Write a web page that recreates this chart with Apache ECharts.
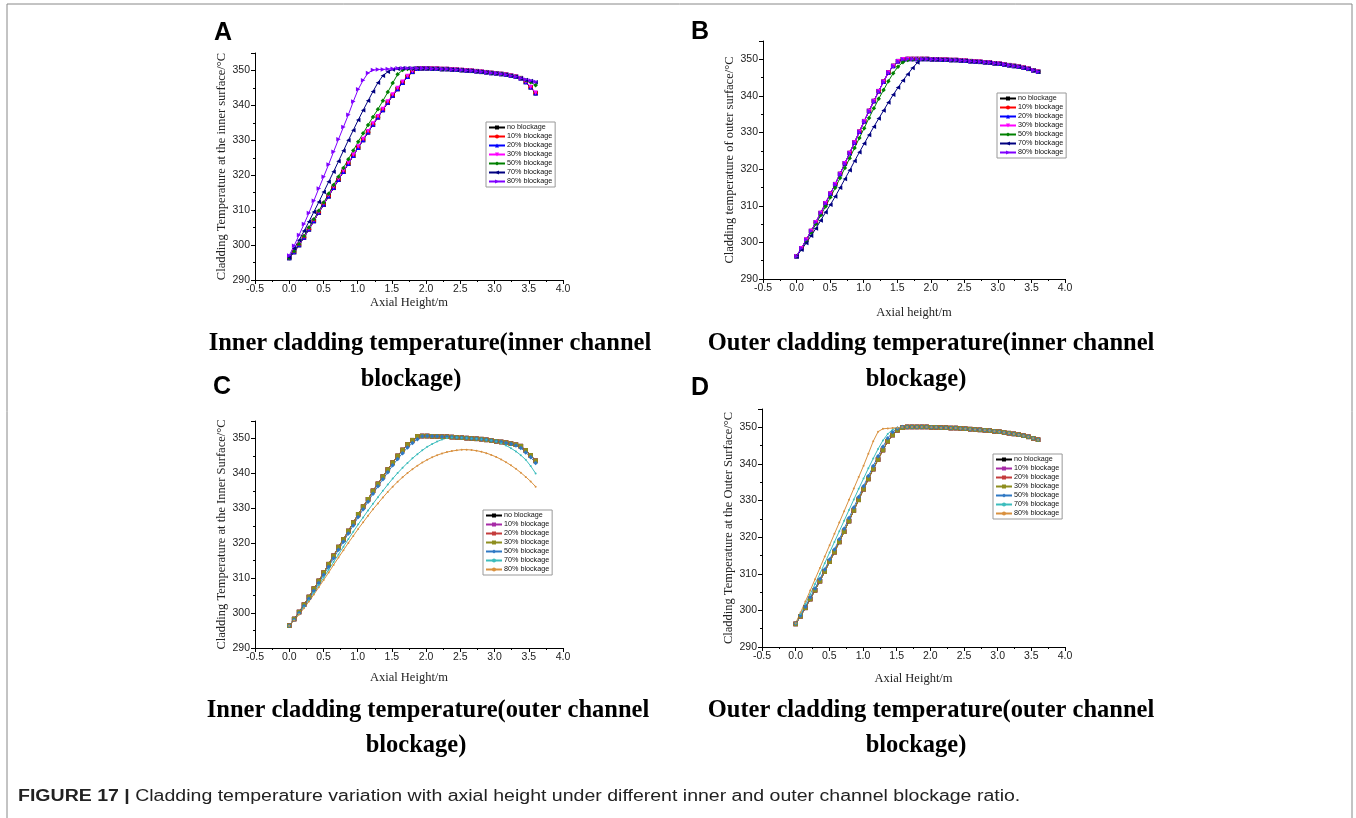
<!DOCTYPE html>
<html><head><meta charset="utf-8">
<script src="https://cdn.jsdelivr.net/npm/echarts@6/dist/echarts.min.js"></script>
<style>html,body{margin:0;padding:0;background:#fff}#c{width:1356px;height:818px}</style>
</head><body><div id="c"></div>
<script>
// Axial height positions (m)
const xs = [0,0.072,0.144,0.216,0.288,0.36,0.432,0.504,0.576,0.648,0.72,0.792,0.864,0.936,1.008,1.08,1.152,1.224,1.296,1.368,1.44,1.512,1.584,1.656,1.728,1.8,1.872,1.944,2.016,2.088,2.16,2.232,2.304,2.376,2.448,2.52,2.592,2.664,2.736,2.808,2.88,2.952,3.024,3.096,3.168,3.24,3.312,3.384,3.456,3.528,3.6];
const blockageLabels = ['no blockage','10% blockage','20% blockage','30% blockage','50% blockage','70% blockage','80% blockage'];
const xTicks = [-0.5,0,0.5,1,1.5,2,2.5,3,3.5,4];
const yTicks = [290,300,310,320,330,340,350];
const yTop = 355;

// Panel A: inner cladding temperature, inner channel blockage
const aBase = [296.3,298.0,300.0,302.2,304.5,306.9,309.3,311.6,314.0,316.4,318.7,321.0,323.3,325.6,327.9,330.1,332.3,334.5,336.6,338.7,340.8,342.8,344.7,346.5,348.2,349.6,350.5,350.6,350.6,350.5,350.5,350.4,350.4,350.3,350.2,350.1,350.0,349.9,349.8,349.6,349.5,349.3,349.2,349.0,348.8,348.5,348.2,347.8,346.7,345.2,343.5];
const a30 = [296.4,298.1,300.2,302.4,304.7,307.1,309.5,311.9,314.3,316.7,319.0,321.3,323.6,325.9,328.2,330.4,332.6,334.8,336.9,339.0,341.1,343.1,345.0,346.8,348.4,349.8,350.5,350.6,350.6,350.5,350.5,350.4,350.4,350.3,350.2,350.1,350.0,349.9,349.8,349.6,349.5,349.3,349.2,349.0,348.8,348.5,348.2,347.8,346.8,345.3,343.6];
const a50 = [296.3,298.2,300.3,302.6,305.0,307.4,309.8,312.2,314.7,317.2,319.6,322.1,324.6,327.1,329.6,332.0,334.4,336.7,338.9,341.3,343.8,346.4,348.9,350.1,350.4,350.5,350.6,350.6,350.6,350.5,350.5,350.4,350.4,350.3,350.2,350.1,350.0,349.9,349.8,349.6,349.5,349.3,349.2,349.0,348.8,348.5,348.2,347.8,347.2,346.6,345.8];
const a70 = [296.5,299.0,301.4,304.0,306.7,309.5,312.3,315.2,318.1,321.0,324.0,327.0,330.0,332.9,335.8,338.6,341.3,344.0,346.5,348.5,349.6,350.3,350.5,350.6,350.6,350.6,350.6,350.6,350.6,350.5,350.5,350.4,350.4,350.3,350.2,350.1,350.0,349.9,349.8,349.6,349.5,349.3,349.2,349.0,348.8,348.5,348.2,347.8,347.3,347.0,346.6];
const a80 = [297.0,299.8,302.9,306.0,309.2,312.7,316.2,319.6,323.1,326.7,330.3,333.8,337.3,341.1,344.6,347.2,349.3,350.1,350.3,350.3,350.4,350.5,350.6,350.6,350.6,350.6,350.6,350.6,350.6,350.5,350.5,350.4,350.4,350.3,350.2,350.1,350.0,349.9,349.8,349.6,349.5,349.3,349.2,349.0,348.8,348.5,348.2,347.8,347.4,347.1,346.8];

// Panel B: outer cladding temperature, inner channel blockage
const bBase = [296.2,298.4,300.7,303.1,305.5,308.0,310.7,313.3,315.9,318.7,321.6,324.4,327.3,330.2,333.1,335.9,338.6,341.3,343.9,346.4,348.2,349.5,350.0,350.1,350.1,350.1,350.1,350.1,350.0,350.0,349.9,349.9,349.8,349.8,349.7,349.6,349.5,349.4,349.3,349.2,349.1,348.9,348.8,348.6,348.4,348.2,348.0,347.7,347.4,347.0,346.6];
const b50 = [296.2,298.2,300.4,302.7,305.0,307.4,309.8,312.3,314.9,317.6,320.3,323.0,325.8,328.5,331.2,334.0,336.6,339.2,341.6,344.0,346.2,348.0,349.2,349.8,350.0,350.1,350.1,350.1,350.0,350.0,349.9,349.9,349.8,349.8,349.7,349.6,349.5,349.4,349.3,349.2,349.1,348.9,348.8,348.6,348.4,348.2,348.0,347.7,347.4,347.0,346.6];
const b70 = [296.2,298.0,299.8,301.8,303.8,306.0,308.2,310.3,312.5,314.9,317.3,319.7,322.2,324.6,327.0,329.3,331.6,333.8,336.0,338.2,340.3,342.3,344.2,345.9,347.6,349.1,350.0,350.1,350.0,350.0,349.9,349.9,349.8,349.8,349.7,349.6,349.5,349.4,349.3,349.2,349.1,348.9,348.8,348.6,348.4,348.2,348.0,347.7,347.4,347.0,346.6];

// Panel C: inner cladding temperature, outer channel blockage
const cBase = [296.4,298.3,300.3,302.4,304.6,307.0,309.2,311.6,314.0,316.4,318.9,321.1,323.5,325.9,328.3,330.5,332.6,335.0,337.0,339.1,341.1,343.1,345.0,346.7,348.3,349.5,350.6,350.7,350.7,350.6,350.6,350.5,350.5,350.4,350.3,350.2,350.1,350.0,349.9,349.8,349.6,349.4,349.2,349.0,348.8,348.5,348.2,347.8,346.6,345.2,343.6];
const c50 = [296.4,298.1,300.0,302.0,304.1,306.4,308.6,311.0,313.3,315.7,318.1,320.4,322.8,325.1,327.5,329.7,331.9,334.2,336.3,338.3,340.3,342.3,344.1,345.8,347.4,348.7,349.8,350.6,350.7,350.6,350.6,350.5,350.5,350.4,350.3,350.2,350.1,350.0,349.9,349.8,349.6,349.4,349.2,349.0,348.7,348.4,348.0,347.3,346.0,344.6,343.0];
const c70 = [296.4,298.0,299.8,301.7,303.7,305.8,308.0,310.2,312.4,314.6,316.8,319.0,321.2,323.3,325.4,327.4,329.4,331.3,333.2,335.0,336.8,338.5,340.1,341.6,343.0,344.3,345.5,346.6,347.6,348.4,349.1,349.7,350.1,350.3,350.3,350.2,350.1,350.0,349.9,349.8,349.6,349.4,349.1,348.6,348.0,347.2,346.3,345.2,343.9,342.1,340.0];
const c80 = [296.4,297.9,299.6,301.4,303.3,305.3,307.4,309.5,311.6,313.8,315.9,318.0,320.1,322.1,324.1,326.0,327.9,329.7,331.4,333.1,334.7,336.2,337.6,338.9,340.1,341.2,342.2,343.1,343.9,344.6,345.2,345.7,346.1,346.4,346.6,346.8,346.8,346.7,346.5,346.2,345.8,345.3,344.7,344.0,343.2,342.3,341.3,340.2,339.0,337.7,336.2];

// Panel D: outer cladding temperature, outer channel blockage
const dBase = [296.3,298.4,300.7,303.1,305.5,308.0,310.6,313.3,315.9,318.7,321.5,324.4,327.3,330.2,333.1,335.9,338.6,341.2,343.8,346.2,347.9,349.2,349.9,350.1,350.1,350.1,350.1,350.1,350.0,350.0,349.9,349.9,349.8,349.8,349.7,349.6,349.5,349.4,349.3,349.2,349.1,348.9,348.8,348.6,348.4,348.2,348.0,347.7,347.4,347.0,346.6];
const d50 = [296.4,298.6,301.0,303.5,306.0,308.6,311.2,313.9,316.6,319.4,322.3,325.2,328.1,331.0,333.9,336.7,339.4,342.1,344.7,347.0,348.7,349.7,350.1,350.1,350.1,350.1,350.1,350.1,350.0,350.0,349.9,349.9,349.8,349.8,349.7,349.6,349.5,349.4,349.3,349.2,349.1,348.9,348.8,348.6,348.4,348.2,348.0,347.7,347.4,347.0,346.6];
const d70 = [296.4,299.0,301.7,304.4,307.2,310.0,312.9,315.8,318.7,321.6,324.5,327.4,330.3,333.2,336.0,338.8,341.5,344.1,346.4,348.2,349.4,349.9,350.1,350.1,350.1,350.1,350.1,350.1,350.0,350.0,349.9,349.9,349.8,349.8,349.7,349.6,349.5,349.4,349.3,349.2,349.1,348.9,348.8,348.6,348.4,348.2,348.0,347.7,347.4,347.0,346.6];
const d80 = [296.5,299.4,302.4,305.4,308.5,311.6,314.7,317.8,320.9,324.0,327.1,330.2,333.3,336.4,339.5,342.8,346.2,348.8,349.6,349.7,349.8,349.9,350.0,350.1,350.1,350.1,350.1,350.1,350.0,350.0,349.9,349.9,349.8,349.8,349.7,349.6,349.5,349.4,349.3,349.2,349.1,348.9,348.8,348.6,348.4,348.2,348.0,347.7,347.4,347.0,346.6];

const panelSeries = {
  A: [aBase, aBase, aBase, a30, a50, a70, a80],
  B: [bBase, bBase, bBase, bBase, b50, b70, bBase],
  C: [cBase, cBase, cBase, cBase, c50, c70, c80],
  D: [dBase, dBase, dBase, dBase, d50, d70, d80]
};
const yNames = {
  A: 'Cladding Temperature at the inner surface/\u00b0C',
  B: 'Cladding temperature of outer surface/\u00b0C',
  C: 'Cladding Temperature at the Inner Surface/\u00b0C',
  D: 'Cladding Temperature at the Outer Surface/\u00b0C'
};
const xNames = {A: 'Axial Height/m', B: 'Axial height/m', C: 'Axial Height/m', D: 'Axial Height/m'};
const subtitles = {
  A: ['Inner cladding temperature(inner channel', 'blockage)'],
  B: ['Outer cladding temperature(inner channel', 'blockage)'],
  C: ['Inner cladding temperature(outer channel', 'blockage)'],
  D: ['Outer cladding temperature(outer channel', 'blockage)']
};
const captionBold = 'FIGURE 17 |';
const captionText = ' Cladding temperature variation with axial height under different inner and outer channel blockage ratio.';

// styling (not data)
const panels = ['A','B','C','D'];
const grids = {
  A: {left: 255, top: 53, width: 308, height: 227},
  B: {left: 763, top: 41, width: 302, height: 238},
  C: {left: 255, top: 421, width: 308, height: 227},
  D: {left: 762, top: 409, width: 303, height: 238}
};
const xNameGap = {A: 13, B: 27, C: 23, D: 25};
const legendPos = {A: [486, 122], B: [997, 93], C: [483, 510], D: [993, 454]};
const styleAB = [
  {c: '#000000', s: 'rect', r: 0},
  {c: '#FF0000', s: 'circle', r: 0},
  {c: '#0000FF', s: 'triangle', r: 0},
  {c: '#FF00FF', s: 'triangle', r: 180},
  {c: '#008000', s: 'diamond', r: 0},
  {c: '#000080', s: 'triangle', r: 90},
  {c: '#8000FF', s: 'triangle', r: -90}
];
const styleCD = [
  {c: '#000000', s: 'rect', r: 0},
  {c: '#A62AA6', s: 'rect', r: 0},
  {c: '#C43C3C', s: 'rect', r: 0},
  {c: '#8E8E1E', s: 'rect', r: 0},
  {c: '#2F78C4', s: 'diamond', r: 0},
  {c: '#3DBDBD', s: 'circle', r: 0, small: true},
  {c: '#D9913F', s: 'circle', r: 0, small: true}
];

const SANS = '"Liberation Sans", Arial, sans-serif';
const SERIF = '"Liberation Serif", "Times New Roman", serif';

const option = {
  backgroundColor: '#ffffff',
  animation: false,
  grid: [], xAxis: [], yAxis: [], legend: [], series: [], graphic: []
};

panels.forEach((p, pi) => {
  option.grid.push(Object.assign({containLabel: false}, grids[p]));
  option.xAxis.push({
    type: 'value', gridIndex: pi,
    min: xTicks[0], max: xTicks[xTicks.length - 1], interval: xTicks[1] - xTicks[0],
    name: xNames[p], nameLocation: 'middle', nameGap: xNameGap[p],
    nameTextStyle: {fontFamily: SERIF, fontSize: 12.5, color: '#222'},
    axisLine: {onZero: false, lineStyle: {color: '#000', width: 1}},
    axisTick: {length: 4, lineStyle: {color: '#000'}},
    minorTick: {show: true, splitNumber: 2, length: 2, lineStyle: {color: '#000'}},
    splitLine: {show: false},
    axisLabel: {fontFamily: SANS, fontSize: 10.5, color: '#222', margin: 4,
      formatter: v => v.toFixed(1)}
  });
  option.yAxis.push({
    type: 'value', gridIndex: pi,
    min: yTicks[0], max: yTop, interval: yTicks[1] - yTicks[0],
    name: yNames[p], nameLocation: 'middle', nameGap: 27, nameRotate: 90,
    nameTextStyle: {fontFamily: SERIF, fontSize: 12.5, color: '#222'},
    axisLine: {show: true, onZero: false, lineStyle: {color: '#000', width: 1}},
    axisTick: {show: true, length: 4, lineStyle: {color: '#000'}},
    minorTick: {show: true, splitNumber: 2, length: 2, lineStyle: {color: '#000'}},
    splitLine: {show: false},
    axisLabel: {fontFamily: SANS, fontSize: 10.5, color: '#222', margin: 5, showMaxLabel: false}
  });
  const styles = (p === 'A' || p === 'B') ? styleAB : styleCD;
  const names = [];
  blockageLabels.forEach((lab, si) => {
    const st = styles[si];
    const arr = panelSeries[p][si];
    const nm = p + '|' + lab;
    names.push(nm);
    option.series.push({
      type: 'line', name: nm, xAxisIndex: pi, yAxisIndex: pi,
      data: xs.map((x, i) => [x, arr[i]]),
      symbol: st.s, symbolRotate: st.r, symbolSize: st.small ? 2 : 4.5,
      showSymbol: true, smooth: false,
      lineStyle: {color: st.c, width: 1},
      itemStyle: {color: st.c},
      emphasis: {disabled: true}
    });
  });
  option.legend.push({
    data: names, orient: 'vertical',
    left: legendPos[p][0], top: legendPos[p][1],
    itemWidth: 16, itemHeight: 5, itemGap: 2,
    padding: [2, 3, 2, 2],
    borderColor: '#999', borderWidth: 1,
    selectedMode: false,
    formatter: n => n.split('|')[1],
    textStyle: {fontFamily: SANS, fontSize: 7.2, color: '#111', padding: [0, 0, 0, -3]}
  });
});

// panel letters
const letterPos = {A: [223, 33], B: [700, 32], C: [222, 387], D: [700, 388]};
panels.forEach(p => {
  option.graphic.push({type: 'text', x: letterPos[p][0], y: letterPos[p][1],
    style: {text: p, font: 'bold 25px ' + SANS, fill: '#000', align: 'center', verticalAlign: 'middle'}});
});
// subtitles
const subPos = {A: [430, 411, 344, 380], B: [931, 916, 344, 380], C: [428, 416, 711, 746], D: [931, 916, 711, 746]};
panels.forEach(p => {
  const sp = subPos[p];
  option.graphic.push({type: 'text', x: sp[0], y: sp[2],
    style: {text: subtitles[p][0], font: 'bold 24.5px ' + SERIF, fill: '#000', align: 'center', verticalAlign: 'middle'}});
  option.graphic.push({type: 'text', x: sp[1], y: sp[3],
    style: {text: subtitles[p][1], font: 'bold 24.5px ' + SERIF, fill: '#000', align: 'center', verticalAlign: 'middle'}});
});
// caption
option.graphic.push({type: 'text', x: 18, y: 797, scaleX: 1.22,
  style: {text: '{b|' + captionBold + '}' + captionText, font: '16px ' + SANS, fill: '#222', verticalAlign: 'middle',
    rich: {b: {fontWeight: 'bold', fontSize: 16, fontFamily: SANS, fill: '#222'}}}});
// frame
option.graphic.push({type: 'rect', shape: {x: 7, y: 4, width: 1345, height: 830},
  style: {fill: 'none', stroke: '#888', lineWidth: 1}, silent: true});

const chart = echarts.init(document.getElementById('c'), null, {renderer: 'canvas'});
chart.setOption(option);
</script></body></html>
